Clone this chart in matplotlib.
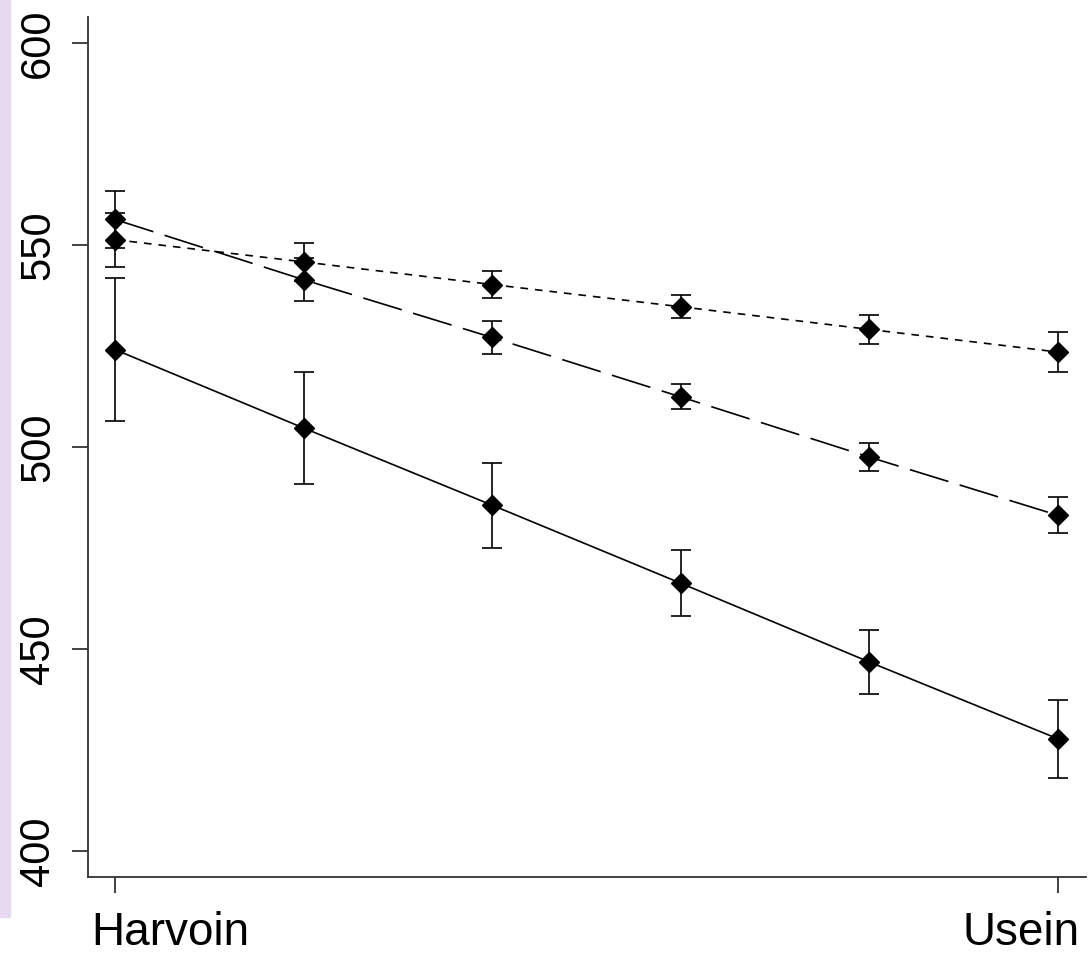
import matplotlib.pyplot as plt
from matplotlib.patches import Rectangle

plt.rcParams['lines.scale_dashes'] = False

x = [0, 1, 2, 3, 4, 5]
end_labels = ['Harvoin', 'Usein']
y_ticks = [400, 450, 500, 550, 600]

solid_mean = [524.1, 504.7, 485.6, 466.3, 446.8, 427.8]
solid_err = [17.6, 13.8, 10.5, 8.2, 7.8, 9.7]
dash_mean = [556.3, 541.4, 527.1, 512.4, 497.5, 483.1]
dash_err = [7.1, 5.3, 4.0, 3.1, 3.4, 4.5]
dot_mean = [551.3, 545.8, 540.2, 534.7, 529.1, 523.5]
dot_err = [6.7, 4.7, 3.4, 2.9, 3.5, 5.0]

W, H = 1089, 956
fig = plt.figure(figsize=(W / 100, H / 100), dpi=100)
ax = fig.add_axes([88 / W, 1 - 877 / H, (1086 - 88) / W, (877 - 17) / H])

# lavender strip on the left edge
fig.patches.append(Rectangle((0, 1 - 917 / H), 10 / W, 917 / H,
                             transform=fig.transFigure, color='#e6d9f0', zorder=-1))

common = dict(color='black', marker='D', ms=10, capsize=7.2,
              elinewidth=1.2, capthick=1.2, lw=1.2)
ax.errorbar(x, solid_mean, yerr=solid_err, ls='-', **common)
l2 = ax.errorbar(x, dash_mean, yerr=dash_err, **common)
l2.lines[0].set_dashes((29, 8.5))
l3 = ax.errorbar(x, dot_mean, yerr=dot_err, **common)
l3.lines[0].set_dashes((5.5, 5))

ax.set_xlim(-0.143, 5.149)
ax.set_ylim(393.6, 606.4)

for s in ['top', 'right']:
    ax.spines[s].set_visible(False)
for s in ['left', 'bottom']:
    ax.spines[s].set_linewidth(1.3)
    ax.spines[s].set_color('#333333')

ax.set_xticks([0, 5])
ax.set_xticklabels([])
ax.set_yticks(y_ticks)
ax.set_yticklabels([str(v) for v in y_ticks], rotation=90, va='center',
                   fontsize=30, family='Liberation Sans')
ax.tick_params(axis='both', length=11.5, width=1.3, direction='out', color='#333333')
ax.tick_params(axis='y', pad=10)

fig.text(91 / W, 1 - 945 / H, end_labels[0], ha='left', va='baseline',
         fontsize=33, family='Liberation Sans')
fig.text(1080 / W, 1 - 945 / H, end_labels[1], ha='right', va='baseline',
         fontsize=33, family='Liberation Sans')

fig.savefig('out.png', dpi=100)
